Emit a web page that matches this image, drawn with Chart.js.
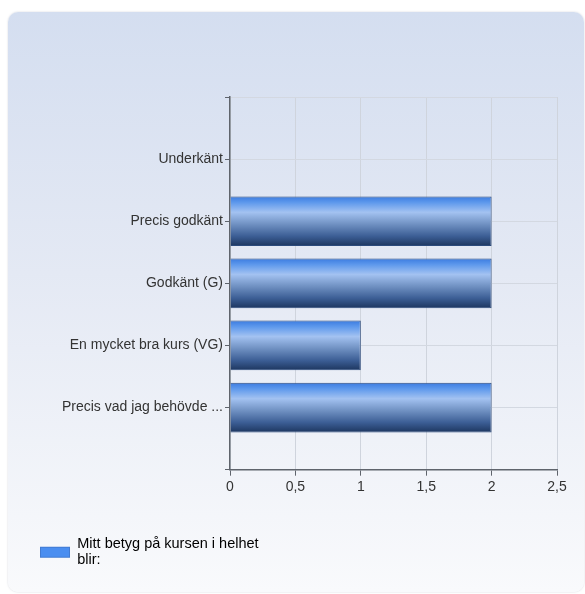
<!DOCTYPE html>
<html>
<head>
<meta charset="utf-8">
<script src="https://cdn.jsdelivr.net/npm/chart.js@4/dist/chart.umd.min.js"></script>
<style>
  html, body { margin: 0; padding: 0; background: #ffffff; }
  #wrap { position: relative; width: 585px; height: 594px; overflow: hidden; }
  #panel { position: absolute; left: 8px; top: 12px; width: 576px; height: 580px;
    border-radius: 10px; background: linear-gradient(to bottom, #d4def0 0%, #e4e9f4 45%, #f9fafc 100%);
    box-shadow: 0 0 2px rgba(120,130,150,0.35); }
  #c { position: absolute; left: 0; top: 0; }
</style>
</head>
<body>
<div id="wrap">
  <div id="panel"></div>
  <canvas id="c" width="585" height="594"></canvas>
</div>
<script>
const categories = ['Underkänt', 'Precis godkänt', 'Godkänt (G)', 'En mycket bra kurs (VG)', 'Precis vad jag behövde ...'];
const values = [0, 2, 2, 1, 2];
const xTicks = [0, 0.5, 1, 1.5, 2, 2.5];
const seriesName = ['Mitt betyg på kursen i helhet', 'blir:'];

const labels = [''].concat(categories, ['']);
const data = [null].concat(values, [null]);

function barGradient(context) {
  const chart = context.chart;
  const yScale = chart.scales.y;
  if (!chart.chartArea || !yScale || context.dataIndex == null) return '#4a8ef0';
  const step = yScale.getPixelForValue(1) - yScale.getPixelForValue(0);
  const center = yScale.getPixelForValue(context.dataIndex);
  const half = step * 0.8 / 2;
  const g = chart.ctx.createLinearGradient(0, center - half, 0, center + half);
  g.addColorStop(0, '#3b7be0');
  g.addColorStop(0.12, '#5d98ec');
  g.addColorStop(0.32, '#a3c2f1');
  g.addColorStop(0.55, '#7293c4');
  g.addColorStop(0.8, '#3c5e95');
  g.addColorStop(1, '#1d365f');
  return g;
}

// legend symbol: flat box, drawn lower so it sits between the two text lines
const legendSymbol = document.createElement('canvas');
legendSymbol.width = 30; legendSymbol.height = 40;
(function(){
  const c = legendSymbol.getContext('2d');
  c.fillStyle = '#4a8ef0';
  c.fillRect(0, 23, 30, 11);
  c.strokeStyle = 'rgba(60,110,190,0.6)';
  c.lineWidth = 1;
  c.strokeRect(0.5, 23.5, 29, 10);
})();

// let the two-line legend label draw past the legend box edge
const legendNoClip = {
  id: 'legendNoClip',
  afterLayout(chart) {
    const lg = chart.legend;
    if (lg && !lg._noClip) {
      lg._noClip = true;
      lg.draw = function () { if (this.options.display) this._draw(); };
    }
  }
};

const FONT = { family: 'Liberation Sans, Arial', size: 14 };

new Chart(document.getElementById('c'), {
  type: 'bar',
  data: {
    labels: labels,
    datasets: [{
      label: seriesName.join(' '),
      data: data,
      backgroundColor: barGradient,
      borderColor: '#2b4a7c',
      borderWidth: 1,
      barPercentage: 0.8,
      categoryPercentage: 1
    }]
  },
  plugins: [legendNoClip],
  options: {
    indexAxis: 'y',
    responsive: false,
    animation: false,
    devicePixelRatio: 1,
    layout: { padding: { left: 2, right: 28, top: 97, bottom: 33 } },
    scales: {
      x: {
        min: 0, max: 2.5,
        afterBuildTicks: (scale) => { scale.ticks = xTicks.map(v => ({ value: v })); },
        border: { display: true, color: '#5f646c', width: 1.5 },
        grid: { color: '#cfd4dd', tickColor: '#5f646c', tickLength: 6, lineWidth: 1 },
        ticks: {
          padding: 3,
          color: '#333333',
          font: FONT,
          callback: (v) => String(v).replace('.', ',')
        }
      },
      y: {
        type: 'category',
        offset: false,
        afterFit: (scale) => { scale.width = 228; },
        border: { display: true, color: '#5f646c', width: 1.5 },
        grid: { offset: false, color: '#d3d8e1', tickColor: '#5f646c', tickLength: 5, lineWidth: 1 },
        ticks: {
          padding: 2,
          autoSkip: false,
          color: '#333333',
          font: FONT
        }
      }
    },
    plugins: {
      tooltip: { enabled: false },
      legend: {
        position: 'bottom',
        align: 'start',
        labels: {
          usePointStyle: true,
          pointStyleWidth: 30,
          padding: 38,
          color: '#222222',
          font: { family: 'Liberation Sans, Arial', size: 14.5, lineHeight: 1.15 },
          generateLabels: () => [{
            text: seriesName,
            pointStyle: legendSymbol,
            fillStyle: '#4a8ef0',
            strokeStyle: '#4a8ef0',
            lineWidth: 0,
            datasetIndex: 0,
            hidden: false
          }]
        }
      }
    }
  }
});
</script>
</body>
</html>
